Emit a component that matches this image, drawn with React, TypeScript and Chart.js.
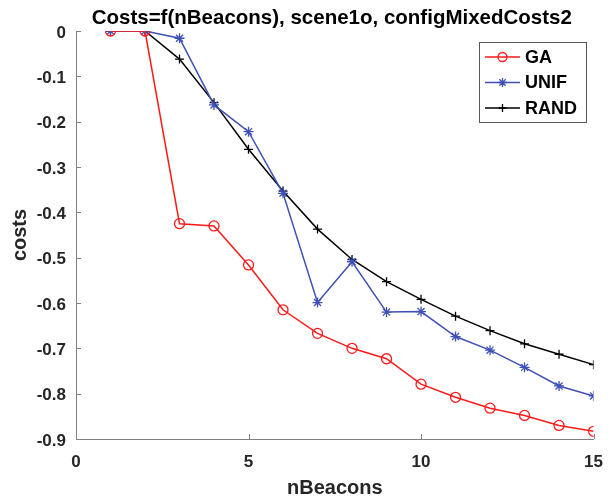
import React, { useEffect, useRef } from "react";
import { Chart, registerables } from "chart.js";

Chart.register(...registerables);

const titleText = "Costs=f(nBeacons), scene1o, configMixedCosts2";
const xLabel = "nBeacons";
const yLabel = "costs";
const nBeacons = [1, 2, 3, 4, 5, 6, 7, 8, 9, 10, 11, 12, 13, 14, 15];
const gaCosts = [0, 0, -0.425, -0.43, -0.516, -0.615, -0.667, -0.7, -0.723, -0.779, -0.808, -0.832, -0.848, -0.87, -0.883];
const unifCosts = [0, 0, -0.016, -0.163, -0.222, -0.358, -0.599, -0.509, -0.62, -0.619, -0.674, -0.704, -0.742, -0.783, -0.805];
const randCosts = [0, 0, -0.062, -0.158, -0.261, -0.353, -0.437, -0.504, -0.553, -0.592, -0.629, -0.661, -0.69, -0.713, -0.736];
const seriesNames = ["GA", "UNIF", "RAND"];
const seriesColors = ["#ff1a1a", "#3f51b5", "#000000"];
const seriesMarkers = ["circle", "star", "cross"];

const FONT = "'Liberation Sans', Arial, sans-serif";
const TEXT = "#262626";
const AXIS = "#808080";

function drawMarker(ctx: CanvasRenderingContext2D, style: string, x: number, y: number, r: number, color: string) {
  ctx.save();
  ctx.strokeStyle = color;
  ctx.lineWidth = 1.3;
  ctx.beginPath();
  if (style === "circle") {
    ctx.arc(x, y, r, 0, Math.PI * 2);
  } else if (style === "cross") {
    ctx.moveTo(x - r, y); ctx.lineTo(x + r, y);
    ctx.moveTo(x, y - r); ctx.lineTo(x, y + r);
  } else {
    ctx.moveTo(x - r, y); ctx.lineTo(x + r, y);
    ctx.moveTo(x, y - r); ctx.lineTo(x, y + r);
    const d = r * 0.707;
    ctx.moveTo(x - d, y - d); ctx.lineTo(x + d, y + d);
    ctx.moveTo(x - d, y + d); ctx.lineTo(x + d, y - d);
  }
  ctx.stroke();
  ctx.restore();
}

const decor = {
  id: "matlabDecor",
  afterDraw(chart: any) {
    const ctx: CanvasRenderingContext2D = chart.ctx;
    const ca = chart.chartArea;
    const xs = chart.scales.x;
    const ys = chart.scales.y;
    ctx.save();
    // title
    ctx.fillStyle = "#000";
    ctx.font = `bold 20.5px ${FONT}`;
    ctx.textAlign = "center";
    ctx.textBaseline = "middle";
    ctx.fillText(titleText, (ca.left + ca.right) / 2 - 3, 18);
    // inward ticks
    ctx.strokeStyle = AXIS;
    ctx.lineWidth = 1;
    ctx.beginPath();
    xs.ticks.forEach((t: any) => {
      const px = Math.round(xs.getPixelForValue(t.value)) + 0.5;
      ctx.moveTo(px, ca.bottom);
      ctx.lineTo(px, ca.bottom - 5);
    });
    ys.ticks.forEach((t: any) => {
      const py = Math.round(ys.getPixelForValue(t.value)) + 0.5;
      ctx.moveTo(ca.left, py);
      ctx.lineTo(ca.left + 5, py);
    });
    ctx.stroke();
    // legend
    const bx = 479, by = 42, bw = 107, bh = 80;
    ctx.fillStyle = "#fff";
    ctx.fillRect(bx, by, bw, bh);
    ctx.strokeStyle = "#555";
    ctx.lineWidth = 1;
    ctx.strokeRect(bx + 0.5, by + 0.5, bw, bh);
    ctx.font = `bold 18px ${FONT}`;
    ctx.textAlign = "left";
    ctx.textBaseline = "middle";
    chart.data.datasets.forEach((ds: any, i: number) => {
      const y = by + 15 + i * 25.5;
      ctx.strokeStyle = ds.borderColor;
      ctx.lineWidth = 1.5;
      ctx.beginPath();
      ctx.moveTo(bx + 6, y);
      ctx.lineTo(bx + 41, y);
      ctx.stroke();
      drawMarker(ctx, ds.pointStyle, bx + 23.5, y, ds.pointStyle === "cross" ? 4 : 4.5, ds.borderColor);
      ctx.fillStyle = "#000";
      ctx.fillText(ds.label, bx + 46, y + 1);
    });
    ctx.restore();
  },
};

export default function App() {
  const ref = useRef<HTMLCanvasElement | null>(null);
  useEffect(() => {
    if (!ref.current) return;
    const series = [gaCosts, unifCosts, randCosts];
    const chart = new Chart(ref.current, {
      type: "line",
      data: {
        datasets: series.map((vals, i) => ({
          label: seriesNames[i],
          data: nBeacons.map((x, j) => ({ x, y: vals[j] })),
          borderColor: seriesColors[i],
          backgroundColor: "transparent",
          borderWidth: 1.5,
          pointStyle: seriesMarkers[i] as any,
          pointRadius: seriesMarkers[i] === "cross" ? 4.5 : 5,
          pointBorderWidth: 1.3,
          pointBorderColor: seriesColors[i],
          pointBackgroundColor: "transparent",
          tension: 0,
          fill: false,
        })),
      },
      options: {
        animation: false,
        responsive: false,
        maintainAspectRatio: false,
        layout: { padding: { left: 0, top: 31, right: 19, bottom: 0 } },
        plugins: { legend: { display: false }, title: { display: false }, tooltip: { enabled: false } },
        scales: {
          x: {
            type: "linear",
            min: 0,
            max: 15,
            ticks: { stepSize: 5, color: TEXT, font: { family: FONT, size: 17, weight: "bold" }, padding: 13, maxRotation: 0 },
            grid: { display: true, drawOnChartArea: false, drawTicks: false },
            border: { display: true, color: AXIS, width: 1 },
            title: { display: true, text: xLabel, color: TEXT, font: { family: FONT, size: 20, weight: "bold", lineHeight: 1.1 }, padding: { top: 0, bottom: 0 } },
            afterFit: (s: any) => { s.height = 60; },
          },
          y: {
            type: "linear",
            min: -0.9,
            max: 0,
            ticks: { stepSize: 0.1, color: TEXT, font: { family: FONT, size: 17, weight: "bold" }, padding: 10, labelOffset: 2, callback: (v: any) => (Math.abs(v) < 1e-9 ? "0" : Number(v).toFixed(1)) },
            grid: { display: true, drawOnChartArea: false, drawTicks: false },
            border: { display: true, color: AXIS, width: 1 },
            title: { display: true, text: yLabel, color: TEXT, font: { family: FONT, size: 20, weight: "bold", lineHeight: 1.2 }, padding: { top: 8, bottom: 0 } },
            afterFit: (s: any) => { s.width = 76; },
          },
        },
      },
      plugins: [decor],
    });
    return () => chart.destroy();
  }, []);
  return (
    <div style={{ position: "absolute", left: 0, top: 0, width: 616, height: 499, background: "#fff" }}>
      <canvas ref={ref} width={616} height={499} style={{ width: 616, height: 499, display: "block" }} />
    </div>
  );
}
